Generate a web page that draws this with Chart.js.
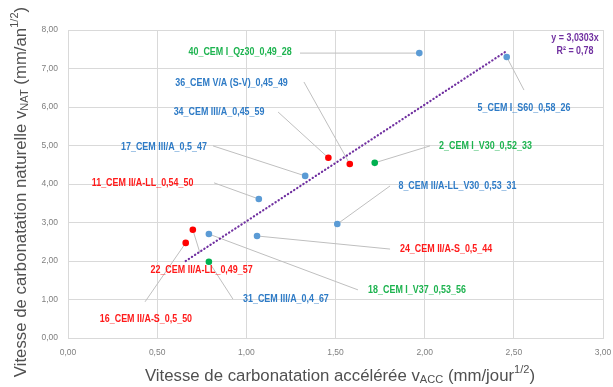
<!DOCTYPE html>
<html>
<head>
<meta charset="utf-8">
<script src="https://cdn.jsdelivr.net/npm/chart.js@4.4.0/dist/chart.umd.min.js"></script>
<style>
  html, body { margin: 0; padding: 0; background: #fff; }
  #wrap { width: 613px; height: 387px; }
</style>
</head>
<body>
<div id="wrap"><canvas id="carboChart" width="613" height="387"></canvas></div>
<script>
// Mix names, accelerated vs natural carbonation rates
const names = [
  '40_CEM I_Qz30_0,49_28', '36_CEM V/A (S-V)_0,45_49', '34_CEM III/A_0,45_59',
  '17_CEM III/A_0,5_47', '11_CEM II/A-LL_0,54_50', '5_CEM I_S60_0,58_26',
  '2_CEM I_V30_0,52_33', '8_CEM II/A-LL_V30_0,53_31', '24_CEM II/A-S_0,5_44',
  '18_CEM I_V37_0,53_56', '31_CEM III/A_0,4_67', '22_CEM II/A-LL_0,49_57',
  '16_CEM II/A-S_0,5_50'
];
const vAcc = [1.97, 1.58, 1.46, 1.33, 1.07, 2.46, 1.72, 1.51, 1.06, 0.79, 0.79, 0.70, 0.66];
const vNat = [7.40, 4.52, 4.68, 4.21, 3.61, 7.30, 4.55, 2.96, 2.65, 2.70, 1.98, 2.81, 2.47];
// group of the marker and of the label text (0 = blue, 1 = red, 2 = green)
const markerGroup = [0, 1, 1, 0, 0, 0, 2, 0, 0, 0, 2, 1, 1];
const labelGroup  = [2, 0, 0, 0, 1, 0, 2, 0, 1, 2, 0, 1, 1];

const slope = 3.0303;
const r2 = '0,78';

const xTickLabels = ['0,00', '0,50', '1,00', '1,50', '2,00', '2,50', '3,00'];
const yTickLabels = ['0,00', '1,00', '2,00', '3,00', '4,00', '5,00', '6,00', '7,00', '8,00'];

// where each label sits (value units): text centre and end of the leader line
const labelCentre = [
  [0.965, 7.43], [0.917, 6.62], [0.847, 5.87], [0.538, 4.96], [0.418, 4.03],
  [2.557, 5.97], [2.341, 4.99], [2.184, 3.95], [2.120, 2.31], [1.957, 1.25],
  [1.222, 1.01], [0.749, 1.77], [0.437, 0.49]
];
const leaderEnd = [
  [1.301, 7.40], [1.323, 6.65], [1.178, 5.87], [0.813, 4.99], [0.819, 4.03],
  [2.557, 6.44], [2.030, 4.99], [1.806, 3.95], [1.806, 2.31], [1.626, 1.25],
  [0.925, 1.01], [0.740, 2.21], [0.432, 0.94]
];

const markerColours = ['#5B9BD5', '#FF0000', '#00B050'];
const labelColours = ['#2E7BC6', '#FF1A1A', '#1DB34F'];
const purple = '#7030A0';

const points = vAcc.map((x, i) => ({ x: x, y: vNat[i] }));
const xMin = Math.min(...vAcc), xMax = Math.max(...vAcc);
const trend = [{ x: xMin, y: slope * xMin }, { x: xMax, y: slope * xMax }];

// text with sub/superscript parts, drawn from the current origin
function drawRich(ctx, parts, size, family) {
  let x = 0;
  parts.forEach(p => {
    ctx.font = (p.s !== 'n' ? size * 0.66 : size) + 'px ' + family;
    let dy = 0;
    if (p.s === 'sub') dy = size * 0.22;
    if (p.s === 'sup') dy = -size * 0.38;
    ctx.fillText(p.t, x, dy);
    x += ctx.measureText(p.t).width;
  });
}
function richWidth(ctx, parts, size, family) {
  let w = 0;
  parts.forEach(p => {
    ctx.font = (p.s !== 'n' ? size * 0.66 : size) + 'px ' + family;
    w += ctx.measureText(p.t).width;
  });
  return w;
}

const xTitle = [
  { t: 'Vitesse de carbonatation accélérée v', s: 'n' }, { t: 'ACC', s: 'sub' },
  { t: ' (mm/jour', s: 'n' }, { t: '1/2', s: 'sup' }, { t: ')', s: 'n' }
];
const yTitle = [
  { t: 'Vitesse de carbonatation naturelle v', s: 'n' }, { t: 'NAT', s: 'sub' },
  { t: ' (mm/an', s: 'n' }, { t: '1/2', s: 'sup' }, { t: ')', s: 'n' }
];

function narrowText(ctx, text, x, y) {
  ctx.save();
  ctx.translate(x, y);
  ctx.scale(0.85, 1);
  ctx.fillText(text, 0, 0);
  ctx.restore();
}

const labelPlugin = {
  id: 'labelPlugin',
  beforeDatasetsDraw(chart) {
    const ctx = chart.ctx, xs = chart.scales.x, ys = chart.scales.y;
    ctx.save();
    ctx.strokeStyle = '#BFBFBF';
    ctx.lineWidth = 1;
    points.forEach((p, i) => {
      ctx.beginPath();
      ctx.moveTo(xs.getPixelForValue(p.x), ys.getPixelForValue(p.y));
      ctx.lineTo(xs.getPixelForValue(leaderEnd[i][0]), ys.getPixelForValue(leaderEnd[i][1]));
      ctx.stroke();
    });
    ctx.restore();
  },
  afterDatasetsDraw(chart) {
    const ctx = chart.ctx, xs = chart.scales.x, ys = chart.scales.y;
    ctx.save();
    ctx.font = 'bold 10.5px "Liberation Sans", sans-serif';
    ctx.textAlign = 'center';
    ctx.textBaseline = 'middle';
    names.forEach((n, i) => {
      ctx.fillStyle = labelColours[labelGroup[i]];
      narrowText(ctx, n, xs.getPixelForValue(labelCentre[i][0]), ys.getPixelForValue(labelCentre[i][1]));
    });
    // trendline equation
    ctx.fillStyle = purple;
    narrowText(ctx, 'y = ' + String(slope).replace('.', ',') + 'x', 575, 38);
    narrowText(ctx, 'R² = ' + r2, 575, 51);

    // axis titles
    const fam = '"Liberation Sans", sans-serif';
    const size = 16.8;
    ctx.fillStyle = '#505050';
    ctx.textAlign = 'left';
    ctx.textBaseline = 'middle';
    let w = richWidth(ctx, xTitle, size, fam);
    ctx.save();
    ctx.translate(340 - w / 2, 376);
    drawRich(ctx, xTitle, size, fam);
    ctx.restore();
    w = richWidth(ctx, yTitle, size, fam);
    ctx.save();
    ctx.translate(21, 192 + w / 2);
    ctx.rotate(-Math.PI / 2);
    drawRich(ctx, yTitle, size, fam);
    ctx.restore();
    ctx.restore();
  }
};

const ctx = document.getElementById('carboChart').getContext('2d');
new Chart(ctx, {
  type: 'scatter',
  data: {
    datasets: [{
      label: 'Tendance',
      type: 'line',
      data: trend,
      borderColor: purple,
      borderWidth: 2.2,
      borderDash: [0.3, 3.4],
      borderCapStyle: 'round',
      pointRadius: 0,
      fill: false,
      order: 0
    }, {
      label: 'Mélanges',
      data: points,
      pointRadius: 3.3,
      pointBackgroundColor: markerGroup.map(g => markerColours[g]),
      pointBorderColor: markerGroup.map(g => markerColours[g]),
      pointBorderWidth: 0,
      order: 1
    }]
  },
  options: {
    responsive: false,
    animation: false,
    layout: { padding: { top: 30, right: 10, left: 0, bottom: 0 } },
    plugins: { legend: { display: false }, tooltip: { enabled: false } },
    scales: {
      x: {
        type: 'linear', min: 0, max: 3,
        ticks: {
          stepSize: 0.5, padding: 10, color: '#7F7F7F',
          font: { size: 8.5, family: '"Liberation Sans", sans-serif' },
          callback: (v, i) => xTickLabels[i]
        },
        grid: { color: '#D9D9D9', drawTicks: false },
        border: { color: '#D9D9D9' },
        afterFit: s => { s.height = 49; s.paddingLeft = 0; s.paddingRight = 0; }
      },
      y: {
        type: 'linear', min: 0, max: 8,
        ticks: {
          stepSize: 1, padding: 10, color: '#7F7F7F',
          font: { size: 8.5, family: '"Liberation Sans", sans-serif' },
          callback: (v, i) => yTickLabels[i]
        },
        grid: { color: '#D9D9D9', drawTicks: false },
        border: { color: '#D9D9D9' },
        afterFit: s => { s.width = 68; s.paddingTop = 0; s.paddingBottom = 0; }
      }
    }
  },
  plugins: [labelPlugin]
});
</script>
</body>
</html>
